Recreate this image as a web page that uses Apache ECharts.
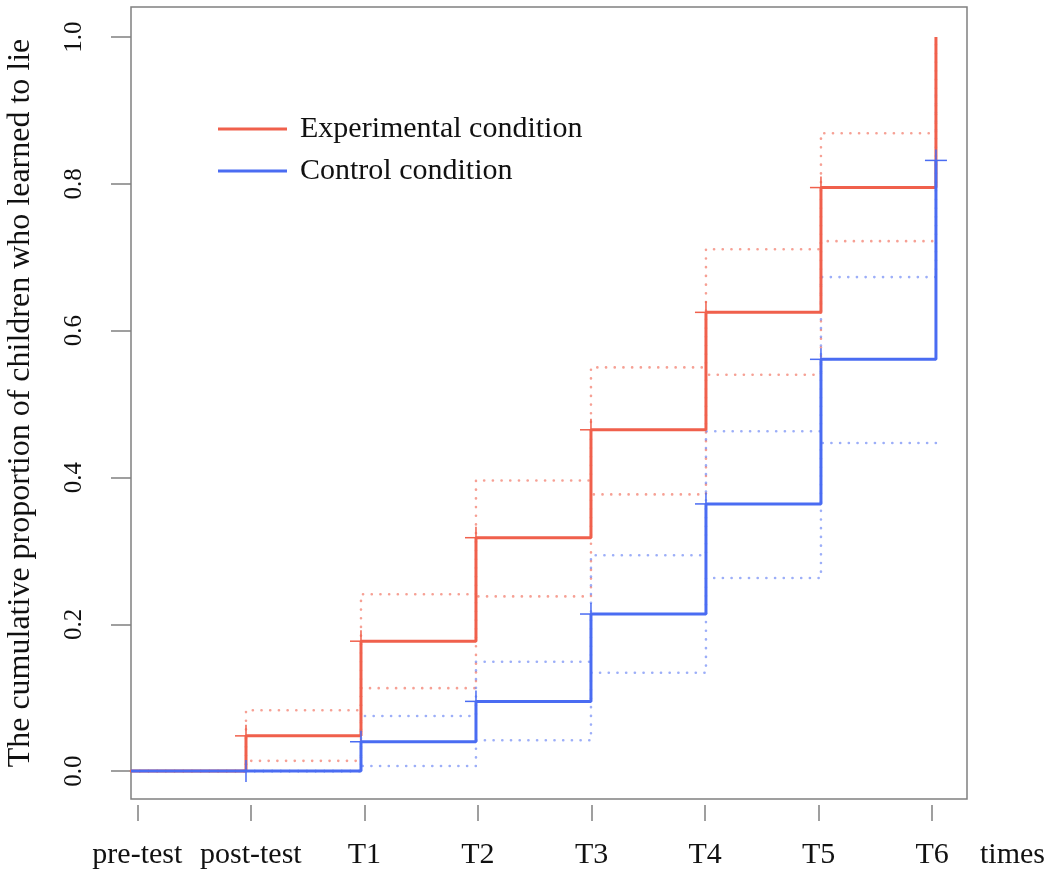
<!DOCTYPE html>
<html>
<head>
<meta charset="utf-8">
<script src="https://cdn.jsdelivr.net/npm/echarts@6/dist/echarts.min.js"></script>
<style>html,body{margin:0;padding:0;background:#fff}#chart{width:1050px;height:872px}</style>
</head>
<body>
<div id="chart"></div>
<script>
// ---- data ----
const tickLabels = ['pre-test', 'post-test', 'T1', 'T2', 'T3', 'T4', 'T5', 'T6'];
const tickPositions = [0.055, 1.042, 2.030, 3.017, 4.005, 4.992, 5.979, 6.967];
const yTicks = [0, 0.2, 0.4, 0.6, 0.8, 1.0];

const timesAll = [0, 1, 2, 3, 4, 5, 6, 7];
const timesCtrlCI = [1, 2, 3, 4, 5, 6, 7];

const expEst   = [0, 0.048, 0.177, 0.318, 0.465, 0.625, 0.795, 1.0];
const ctrlEst  = [0, 0, 0.040, 0.095, 0.214, 0.364, 0.561, 0.832];
const expUpper = [0, 0.083, 0.241, 0.396, 0.550, 0.711, 0.869, 1.0];
const expLower = [0, 0.014, 0.113, 0.238, 0.377, 0.540, 0.722, 0.722];
const ctrlUpper = [0, 0.075, 0.149, 0.294, 0.463, 0.673, 0.924];
const ctrlLower = [0, 0.007, 0.042, 0.134, 0.263, 0.447, 0.447];

// censoring marks (+)
const expMarkTimes = [1, 2, 3, 4, 5, 6];
const expMarks = [0.048, 0.177, 0.318, 0.465, 0.625, 0.795];
const ctrlMarkTimes = [1, 2, 3, 4, 5, 6, 7];
const ctrlMarks = [0, 0.040, 0.095, 0.214, 0.364, 0.561, 0.832];

// ---- styles ----
const RED = '#f0604c';
const BLUE = '#4a6cf2';
const RED_DOT = 'rgba(240,96,76,0.6)';
const BLUE_DOT = 'rgba(74,108,242,0.55)';
const FONT = 'Liberation Serif, Times New Roman, serif';
const GREY = '#808080';

const zip = (xs, ys) => xs.map((x, i) => [x, ys[i]]);

function stepLine(name, xs, ys, color, width, dotted, z) {
  return {
    name: name, type: 'line', step: 'end', symbol: 'none', silent: true,
    data: zip(xs, ys), z: z,
    lineStyle: dotted
      ? { color: color, width: 2.6, type: [0.1, 8.6], cap: 'round', join: 'round' }
      : { color: color, width: width, type: 'solid' },
    itemStyle: { color: color }
  };
}
function crosses(xs, ys, color, z) {
  return {
    type: 'custom', silent: true, z: z,
    data: zip(xs, ys),
    renderItem: function (params, api) {
      const p = api.coord([api.value(0), api.value(1)]);
      const a = 11;
      const st = { stroke: color, lineWidth: 1.5 };
      return { type: 'group', children: [
        { type: 'line', shape: { x1: p[0] - a, y1: p[1], x2: p[0] + a, y2: p[1] }, style: st },
        { type: 'line', shape: { x1: p[0], y1: p[1] - a, x2: p[0], y2: p[1] + a }, style: st }
      ]};
    }
  };
}

const chart = echarts.init(document.getElementById('chart'), null, { renderer: 'canvas' });
chart.setOption({
  animation: false,
  backgroundColor: '#fff',
  grid: { left: 131, right: 83, top: 7, bottom: 73, show: true, borderColor: GREY, borderWidth: 1.5, containLabel: false, outerBoundsMode: 'none' },
  legend: {
    data: ['Experimental condition', 'Control condition'],
    orient: 'vertical', left: 218, top: 112, padding: 0, itemWidth: 69, itemHeight: 3, itemGap: 8,
    icon: 'rect', selectedMode: false,
    textStyle: { fontFamily: FONT, fontSize: 30, color: '#111', lineHeight: 34, padding: [0, 0, 0, 8] }
  },
  xAxis: {
    type: 'value', min: 0, max: 7.27, offset: 6,
    name: 'times', nameLocation: 'end', nameGap: 13,
    nameTextStyle: { fontFamily: FONT, fontSize: 30, color: '#111', verticalAlign: 'top', padding: [35, 0, 0, 0] },
    axisLine: { show: false, onZero: false },
    splitLine: { show: false },
    axisTick: { show: true, length: 16, lineStyle: { color: GREY, width: 1.5 }, customValues: tickPositions },
    axisLabel: {
      fontFamily: FONT, fontSize: 30, color: '#111', margin: 35,
      customValues: tickPositions,
      formatter: function (v) {
        let best = 0;
        tickPositions.forEach(function (t, i) { if (Math.abs(t - v) < Math.abs(tickPositions[best] - v)) best = i; });
        return tickLabels[best];
      }
    }
  },
  yAxis: {
    type: 'value', min: -0.038, max: 1.041,
    name: 'The cumulative proportion of children who learned to lie',
    nameLocation: 'middle', nameGap: 94, nameRotate: 90,
    nameTextStyle: { fontFamily: FONT, fontSize: 32, color: '#111' },
    axisLine: { show: false, onZero: false },
    splitLine: { show: false },
    axisTick: { show: true, length: 20, lineStyle: { color: GREY, width: 1.5 }, customValues: yTicks },
    axisLabel: {
      fontFamily: FONT, fontSize: 25, color: '#111', rotate: 90, margin: 44,
      customValues: yTicks,
      formatter: function (v) { return v.toFixed(1); }
    }
  },
  series: [
    stepLine('expUpper', timesAll, expUpper, RED_DOT, 2, true, 1),
    stepLine('expLower', timesAll, expLower, RED_DOT, 2, true, 1),
    stepLine('ctrlUpper', timesCtrlCI, ctrlUpper, BLUE_DOT, 2, true, 1),
    stepLine('ctrlLower', timesCtrlCI, ctrlLower, BLUE_DOT, 2, true, 1),
    stepLine('Experimental condition', timesAll, expEst, RED, 3, false, 3),
    crosses(expMarkTimes, expMarks, RED, 3),
    stepLine('Control condition', timesAll, ctrlEst, BLUE, 3, false, 4),
    crosses(ctrlMarkTimes, ctrlMarks, BLUE, 4)
  ]
});
</script>
</body>
</html>
